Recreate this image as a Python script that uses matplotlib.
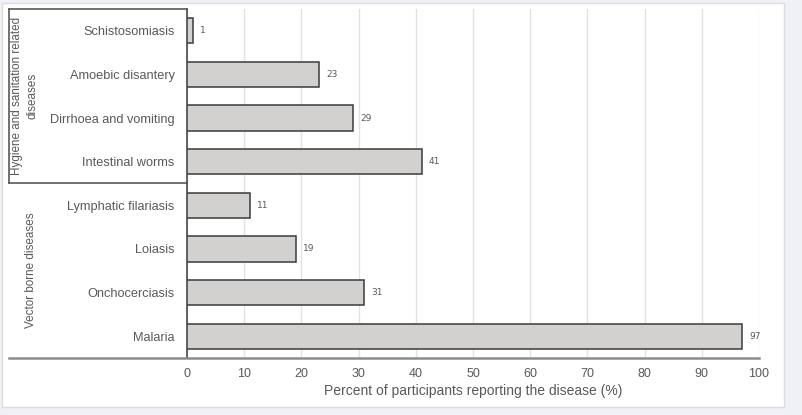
import matplotlib
matplotlib.use("Agg")
import matplotlib.pyplot as plt
from matplotlib.lines import Line2D
from matplotlib.patches import Rectangle

diseases = ["Schistosomiasis", "Amoebic disantery", "Dirrhoea and vomiting",
            "Intestinal worms", "Lymphatic filariasis", "Loiasis",
            "Onchocerciasis", "Malaria"]
percent = [1, 23, 29, 41, 11, 19, 31, 97]
groups = ["Hygiene and sanitation related\ndiseases", "Vector borne diseases"]
xticks = list(range(0, 101, 10))

W, H = 802, 415
txt = "#595959"

def fx(px):
    return px / W

def fy(py):
    return 1 - py / H

fig = plt.figure(figsize=(W / 100, H / 100), dpi=100)
fig.patch.set_facecolor("#eff1f6")
fig.add_artist(Rectangle((fx(2), fy(407)), fx(784) - fx(2), fy(3) - fy(407),
                         transform=fig.transFigure, facecolor="white",
                         edgecolor="#dcdcdc", lw=1, zorder=0))

ax = fig.add_axes([fx(187), fy(358), fx(759) - fx(187), fy(9) - fy(358)])
ax.set_facecolor("none")
ypos = list(range(len(diseases)))
ax.barh(ypos, percent, height=0.58, color="#d2d1cf", edgecolor="#3a3a3a",
        linewidth=1.1, zorder=3)
for y, v in zip(ypos, percent):
    ax.text(v + 1.3, y, str(v), va="center", ha="left", fontsize=6.5,
            color=txt, family="DejaVu Sans")

ax.set_xlim(0, 100)
ax.set_ylim(len(diseases) - 0.5, -0.5)
ax.set_xticks(xticks)
ax.set_xticklabels([str(t) for t in xticks], fontsize=9, color=txt,
                   family="Liberation Sans")
ax.set_yticks(ypos)
ax.set_yticklabels(diseases, fontsize=9.2, color=txt, family="Liberation Sans")
ax.tick_params(axis="both", length=0)
ax.tick_params(axis="x", pad=7)
ax.tick_params(axis="y", pad=9)
ax.grid(axis="x", color="#e2e2e2", lw=1, zorder=0)
for s in ["top", "right", "bottom"]:
    ax.spines[s].set_visible(False)
ax.spines["left"].set_color("#3a3a3a")
ax.spines["left"].set_linewidth(1.1)
ax.set_xlabel("Percent of participants reporting the disease (%)",
              fontsize=10, color=txt, family="Liberation Sans", labelpad=3)

# group bracket lines
dark = "#4a4a4a"
fig.add_artist(Line2D([fx(9), fx(187)], [fy(9), fy(9)], color=dark, lw=1.1))
fig.add_artist(Line2D([fx(9), fx(9)], [fy(9), fy(183)], color=dark, lw=1.1))
fig.add_artist(Line2D([fx(9), fx(187)], [fy(183), fy(183)], color=dark, lw=1.1))
fig.add_artist(Line2D([fx(9), fx(759)], [fy(358), fy(358)], color="#8c8c8c", lw=1.8))

fig.text(fx(25), fy(96), groups[0], rotation=90, ha="center", va="center",
         fontsize=8.4, color=txt, family="Liberation Sans", linespacing=1.4,
         multialignment="center")
fig.text(fx(31), fy(270), groups[1], rotation=90, ha="center", va="center",
         fontsize=8.4, color=txt, family="Liberation Sans")

fig.savefig("out.png", dpi=100, facecolor=fig.get_facecolor())
